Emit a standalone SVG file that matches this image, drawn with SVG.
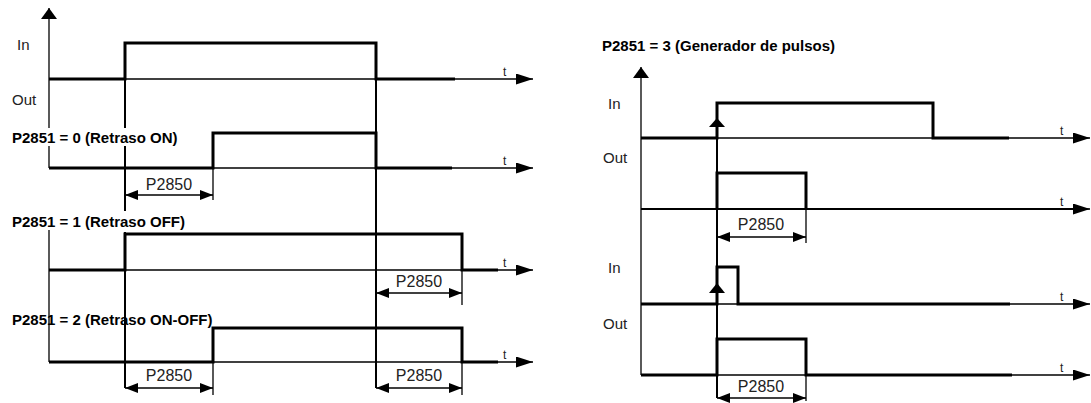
<svg xmlns="http://www.w3.org/2000/svg" width="1091" height="403" viewBox="0 0 1091 403">
<style>
.thin{stroke:#000;stroke-width:1.3;fill:none}
.mid{stroke:#000;stroke-width:2;fill:none}
.thick{stroke:#000;stroke-width:3;fill:none;stroke-linejoin:miter}
.lbl{font-family:"Liberation Sans",Arial,sans-serif;font-size:15px;fill:#222}
.dl{font-family:"Liberation Sans",Arial,sans-serif;font-size:16px;fill:#222}
.ttl{font-family:"Liberation Sans",Arial,sans-serif;font-size:15px;font-weight:bold;fill:#000}
.t{font-family:"Liberation Sans",Arial,sans-serif;font-size:12px;fill:#222}
.dim{stroke:#000;stroke-width:1.3;fill:none;marker-start:url(#da);marker-end:url(#da)}
.tax{stroke:#000;stroke-width:1.3;fill:none;marker-end:url(#ta)}
.vax{stroke:#000;stroke-width:1.3;fill:none;marker-end:url(#va)}
</style>
<defs>
<marker id="ta" markerUnits="userSpaceOnUse" markerWidth="18" markerHeight="11" refX="17" refY="5.5" orient="auto"><path d="M0,0 L17,5.5 L0,11 z" fill="#000"/></marker>
<marker id="va" markerUnits="userSpaceOnUse" markerWidth="12" markerHeight="16" refX="11" refY="8" orient="auto"><path d="M0,0 L11,8 L0,16 z" fill="#000"/></marker>
<marker id="da" markerUnits="userSpaceOnUse" markerWidth="14" markerHeight="10" refX="13" refY="5" orient="auto-start-reverse"><path d="M0,0 L13,5 L0,10 z" fill="#000"/></marker>
</defs>

<g id="connectors">
  <path class="mid" d="M125,43 V128 M125,146 V211 M125,232 V388"/>
  <path class="mid" d="M376,43 V388"/>
  <path class="mid" d="M717,103 V398"/>
</g>

<g id="left-inout">
  <path class="vax" d="M49,128 V8"/>
  <text class="lbl" x="17" y="50">In</text>
  <text class="lbl" x="12" y="105">Out</text>
  <path class="tax" d="M49,79 H533"/>
  <path class="thick" d="M49,79 H125 V43 H376 V79 H455"/>
  <text class="t" x="503" y="76">t</text>
</g>

<g id="left-p0">
  <text class="ttl" x="12" y="143">P2851 = 0 (Retraso ON)</text>
  <path class="thin" d="M49,146 V168"/>
  <path class="tax" d="M49,168 H533"/>
  <path class="thick" d="M49,168 H213 V133 H376 V168 H452"/>
  <text class="t" x="503" y="165">t</text>
  <path class="thin" d="M213,168 V200"/>
  <path class="dim" d="M125,195 H213"/>
  <text class="dl" x="169" y="190" text-anchor="middle">P2850</text>
</g>

<g id="left-p1">
  <text class="ttl" x="12" y="227">P2851 = 1 (Retraso OFF)</text>
  <path class="thin" d="M49,230 V270"/>
  <path class="tax" d="M49,270 H533"/>
  <path class="thick" d="M49,270 H125 V234 H462 V270 H498"/>
  <text class="t" x="503" y="267">t</text>
  <path class="thin" d="M462,270 V305"/>
  <path class="dim" d="M376,293 H462"/>
  <text class="dl" x="419" y="287" text-anchor="middle">P2850</text>
</g>

<g id="left-p2">
  <path class="thin" d="M49,270 V362"/>
  <text class="ttl" x="12" y="325">P2851 = 2 (Retraso ON-OFF)</text>
  <path class="tax" d="M49,362 H533"/>
  <path class="thick" d="M49,362 H213 V328 H462 V362 H498"/>
  <text class="t" x="503" y="359">t</text>
  <path class="thin" d="M213,362 V395 M462,362 V395"/>
  <path class="dim" d="M125,388 H213"/>
  <path class="dim" d="M376,388 H462"/>
  <text class="dl" x="169" y="381" text-anchor="middle">P2850</text>
  <text class="dl" x="419" y="381" text-anchor="middle">P2850</text>
</g>

<g id="right-title">
  <text class="ttl" x="602" y="51">P2851 = 3 (Generador de pulsos)</text>
  <path class="vax" d="M641,375 V67"/>
</g>

<g id="right-in1">
  <text class="lbl" x="608" y="109">In</text>
  <path class="tax" d="M641,138 H1090"/>
  <path class="thick" d="M641,138 H717 V103 H933 V138 H1009"/>
  <polygon points="717,118 709,127 725,127" fill="#000"/>
  <text class="t" x="1060" y="135">t</text>
</g>

<g id="right-out1">
  <text class="lbl" x="603" y="163">Out</text>
  <path class="tax" d="M641,209 H1090"/>
  <path class="mid" d="M641,209 H1075"/>
  <path class="thick" d="M717,209 V173 H806 V209"/>
  <text class="t" x="1060" y="206">t</text>
  <path class="thin" d="M806,209 V243"/>
  <path class="dim" d="M717,237 H806"/>
  <text class="dl" x="761" y="230" text-anchor="middle">P2850</text>
</g>

<g id="right-in2">
  <text class="lbl" x="608" y="273">In</text>
  <path class="tax" d="M641,304 H1090"/>
  <path class="thick" d="M641,304 H717 V267 H738 V304 H1010"/>
  <polygon points="717,283 709,293 725,293" fill="#000"/>
  <text class="t" x="1060" y="301">t</text>
</g>

<g id="right-out2">
  <text class="lbl" x="603" y="329">Out</text>
  <path class="tax" d="M641,375 H1090"/>
  <path class="thick" d="M641,375 H717 V339 H806 V375 H1012"/>
  <text class="t" x="1060" y="372">t</text>
  <path class="thin" d="M806,375 V401"/>
  <path class="dim" d="M717,398 H806"/>
  <text class="dl" x="761" y="392" text-anchor="middle">P2850</text>
</g>
</svg>
